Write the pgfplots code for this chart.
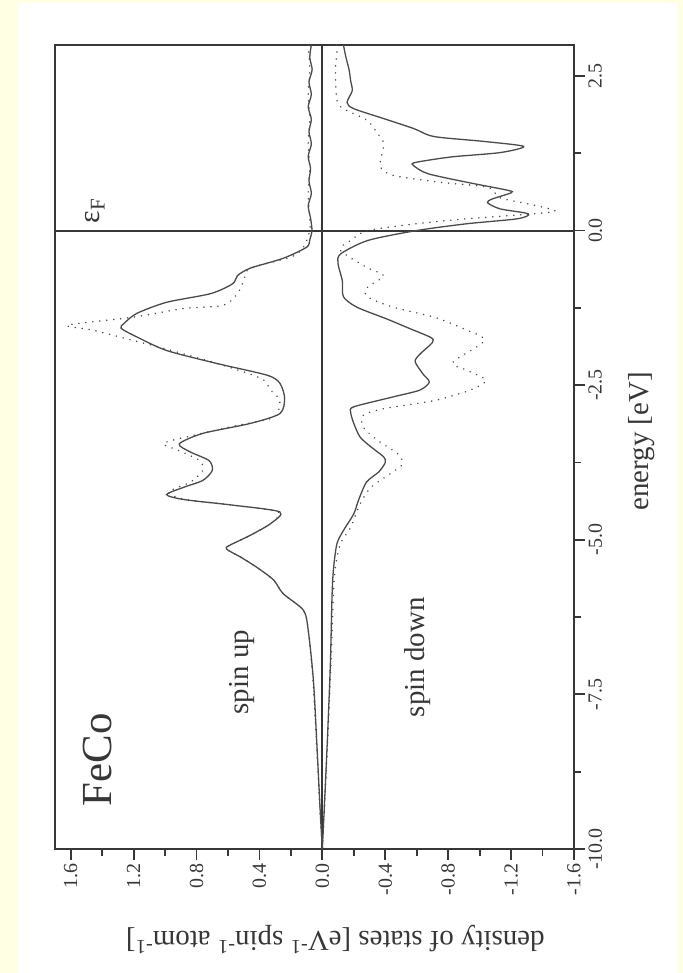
\documentclass[border=0pt]{standalone}
\usepackage{pgfplots}
\pgfplotsset{compat=1.18}
\usepackage{pgfplotstable}
\usepackage{fontspec}
\setmainfont{Liberation Serif}
\definecolor{bgyellow}{RGB}{255,255,228}
\definecolor{framegray}{RGB}{55,55,55}
\definecolor{curvegray}{RGB}{75,75,75}

\pgfplotstableread{
E dos
3.0 0.07
2.8 0.08
2.6 0.065
2.4 0.085
2.2 0.07
2.0 0.09
1.8 0.07
1.6 0.085
1.4 0.07
1.2 0.09
1.0 0.075
0.8 0.085
0.6 0.07
0.4 0.09
0.2 0.075
0.0 0.066
-0.15 0.08
-0.27 0.10
-0.45 0.25
-0.61 0.46
-0.73 0.54
-0.86 0.57
-1.02 0.71
-1.16 0.99
-1.34 1.18
-1.50 1.26
-1.58 1.28
-1.72 1.18
-1.94 0.99
-2.15 0.67
-2.34 0.35
-2.47 0.27
-2.71 0.24
-2.96 0.27
-3.12 0.46
-3.28 0.76
-3.45 0.91
-3.58 0.84
-3.72 0.72
-3.88 0.70
-4.04 0.76
-4.15 0.88
-4.27 0.99
-4.35 0.88
-4.44 0.57
-4.55 0.27
-4.74 0.33
-4.93 0.46
-5.09 0.59
-5.15 0.61
-5.28 0.52
-5.44 0.42
-5.65 0.31
-5.87 0.25
-6.14 0.12
-6.46 0.09
-7.27 0.057
-8.35 0.034
-9.42 0.013
-10.0 0.0
}\upsolid

\pgfplotstableread{
E dos
3.0 0.09
2.6 0.08
2.2 0.09
1.8 0.08
1.4 0.09
1.0 0.08
0.6 0.09
0.2 0.08
0.0 0.08
-0.27 0.12
-0.43 0.20
-0.61 0.46
-0.81 0.50
-1.02 0.54
-1.21 0.63
-1.26 0.88
-1.40 1.20
-1.53 1.62
-1.61 1.46
-1.78 1.20
-1.89 1.03
-2.15 0.67
-2.39 0.39
-2.58 0.33
-2.75 0.27
-3.02 0.31
-3.15 0.54
-3.30 0.80
-3.44 1.01
-3.55 0.92
-3.72 0.78
-3.88 0.76
-4.07 0.84
-4.23 0.98
-4.35 0.87
-4.44 0.57
-4.55 0.28
-4.74 0.33
-4.93 0.46
-5.09 0.59
-5.15 0.61
-5.28 0.52
-5.44 0.42
-5.65 0.31
-5.87 0.25
-6.14 0.12
-6.46 0.09
-7.27 0.06
-8.35 0.036
-9.42 0.014
-10.0 0.0
}\updotted

\pgfplotstableread{
E dos
3.0 -0.134
2.8 -0.15
2.6 -0.17
2.42 -0.18
2.26 -0.19
2.07 -0.157
1.97 -0.20
1.81 -0.39
1.65 -0.58
1.52 -0.71
1.44 -1.03
1.36 -1.28
1.26 -1.13
1.19 -0.82
1.10 -0.59
1.05 -0.58
0.92 -0.67
0.78 -0.92
0.65 -1.18
0.61 -1.20
0.51 -1.08
0.45 -1.05
0.35 -1.13
0.27 -1.31
0.19 -1.24
0.11 -0.92
0.0 -0.60
-0.16 -0.29
-0.38 -0.115
-0.54 -0.10
-0.81 -0.127
-1.07 -0.134
-1.24 -0.22
-1.43 -0.41
-1.59 -0.56
-1.73 -0.69
-1.81 -0.70
-2.0 -0.62
-2.12 -0.59
-2.32 -0.64
-2.45 -0.68
-2.58 -0.62
-2.69 -0.45
-2.85 -0.20
-2.94 -0.18
-3.12 -0.20
-3.34 -0.24
-3.50 -0.31
-3.66 -0.39
-3.75 -0.40
-3.90 -0.36
-4.07 -0.28
-4.36 -0.23
-4.58 -0.20
-4.85 -0.134
-5.06 -0.093
-5.44 -0.072
-5.87 -0.062
-7.0 -0.051
-8.35 -0.03
-10.0 0.0
}\downsolid

\pgfplotstableread{
E dos
3.0 -0.09
2.9 -0.093
2.58 -0.083
2.1 -0.093
1.97 -0.134
1.78 -0.285
1.57 -0.35
1.41 -0.39
1.13 -0.37
1.02 -0.37
0.89 -0.45
0.78 -0.75
0.70 -1.05
0.53 -1.13
0.43 -1.31
0.32 -1.48
0.27 -1.34
0.19 -0.92
0.11 -0.60
0.0 -0.29
-0.16 -0.18
-0.32 -0.115
-0.60 -0.285
-0.73 -0.39
-0.92 -0.285
-1.07 -0.285
-1.24 -0.45
-1.40 -0.71
-1.59 -0.90
-1.78 -1.03
-2.13 -0.83
-2.26 -0.92
-2.42 -1.04
-2.58 -0.94
-2.75 -0.71
-2.88 -0.39
-2.99 -0.26
-3.18 -0.26
-3.39 -0.35
-3.61 -0.48
-3.77 -0.51
-3.90 -0.45
-4.15 -0.31
-4.42 -0.24
-4.80 -0.18
-5.06 -0.115
-5.44 -0.083
-5.87 -0.07
-7.0 -0.055
-8.35 -0.032
-10.0 0.0
}\downdotted

\begin{document}
\begin{tikzpicture}
\useasboundingbox (0,0) rectangle (683bp,973bp);
\fill[bgyellow] (0,0) rectangle (683bp,973bp);
\fill[white] (17bp,0) rectangle (677bp,970bp);
\begin{axis}[
  scale only axis,
  width=519bp, height=804bp,
  at={(55bp,124bp)}, anchor=south west,
  x dir=reverse,
  xmin=-1.6, xmax=1.7, ymin=-10, ymax=3,
  axis line style={line width=2bp, color=framegray},
  xtick={-1.6,-1.2,-0.8,-0.4,0,0.4,0.8,1.2,1.6},
  xticklabels={-1.6,-1.2,-0.8,-0.4,0.0,0.4,0.8,1.2,1.6},
  minor xtick={-1.4,-1.0,-0.6,-0.2,0.2,0.6,1.0,1.4},
  ytick={-10,-7.5,-5,-2.5,0,2.5},
  yticklabels={-10.0,-7.5,-5.0,-2.5,0.0,2.5},
  minor ytick={-8.75,-6.25,-3.75,-1.25,1.25},
  xtick pos=left, ytick pos=right,
  yticklabel pos=right,
  tick align=outside,
  major tick length=11bp, minor tick length=7bp,
  every tick/.style={line width=1.8bp, color=framegray},
  tick label style={font=\fontsize{20}{20}\selectfont, color=framegray},
  xticklabel style={rotate=90, anchor=east},
  yticklabel style={rotate=90, anchor=north},
  xlabel={density of states [eV\textsuperscript{-1} spin\textsuperscript{-1} atom\textsuperscript{-1}]},
  xlabel style={at={(axis description cs:0.54,-0.113)}, anchor=center, rotate=180, font=\fontsize{29}{29}\selectfont, color=framegray},
  ylabel={energy [eV]},
  ylabel style={at={(axis description cs:1.131,0.507)}, anchor=center, font=\fontsize{29}{29}\selectfont, color=framegray},
]
\addplot[line width=2bp, color=framegray] coordinates {(0,-10) (0,3)};
\addplot[line width=2bp, color=framegray] coordinates {(-1.6,0) (1.7,0)};
\addplot[curvegray, line width=1.3bp, smooth, tension=0.45] table[x=dos, y=E] {\upsolid};
\addplot[curvegray, line width=1.3bp, smooth, tension=0.45] table[x=dos, y=E] {\downsolid};
\addplot[curvegray, line width=1.7bp, line cap=round, dash pattern=on 0.01bp off 7bp, smooth, tension=0.45] table[x=dos, y=E] {\updotted};
\addplot[curvegray, line width=1.7bp, line cap=round, dash pattern=on 0.01bp off 7bp, smooth, tension=0.45] table[x=dos, y=E] {\downdotted};
\node[rotate=90, font=\fontsize{43}{43}\selectfont, color=framegray] at (axis cs:1.427,-8.56) {FeCo};
\node[rotate=90, font=\fontsize{29}{29}\selectfont, color=framegray] at (axis cs:0.51,-7.14) {spin up};
\node[rotate=90, font=\fontsize{29}{29}\selectfont, color=framegray] at (axis cs:-0.605,-6.9) {spin down};
\node[rotate=90, font=\fontsize{30}{30}\selectfont, color=framegray] at (axis cs:1.446,0.32) {ε\textsubscript{F}};
\end{axis}
\end{tikzpicture}
\end{document}
